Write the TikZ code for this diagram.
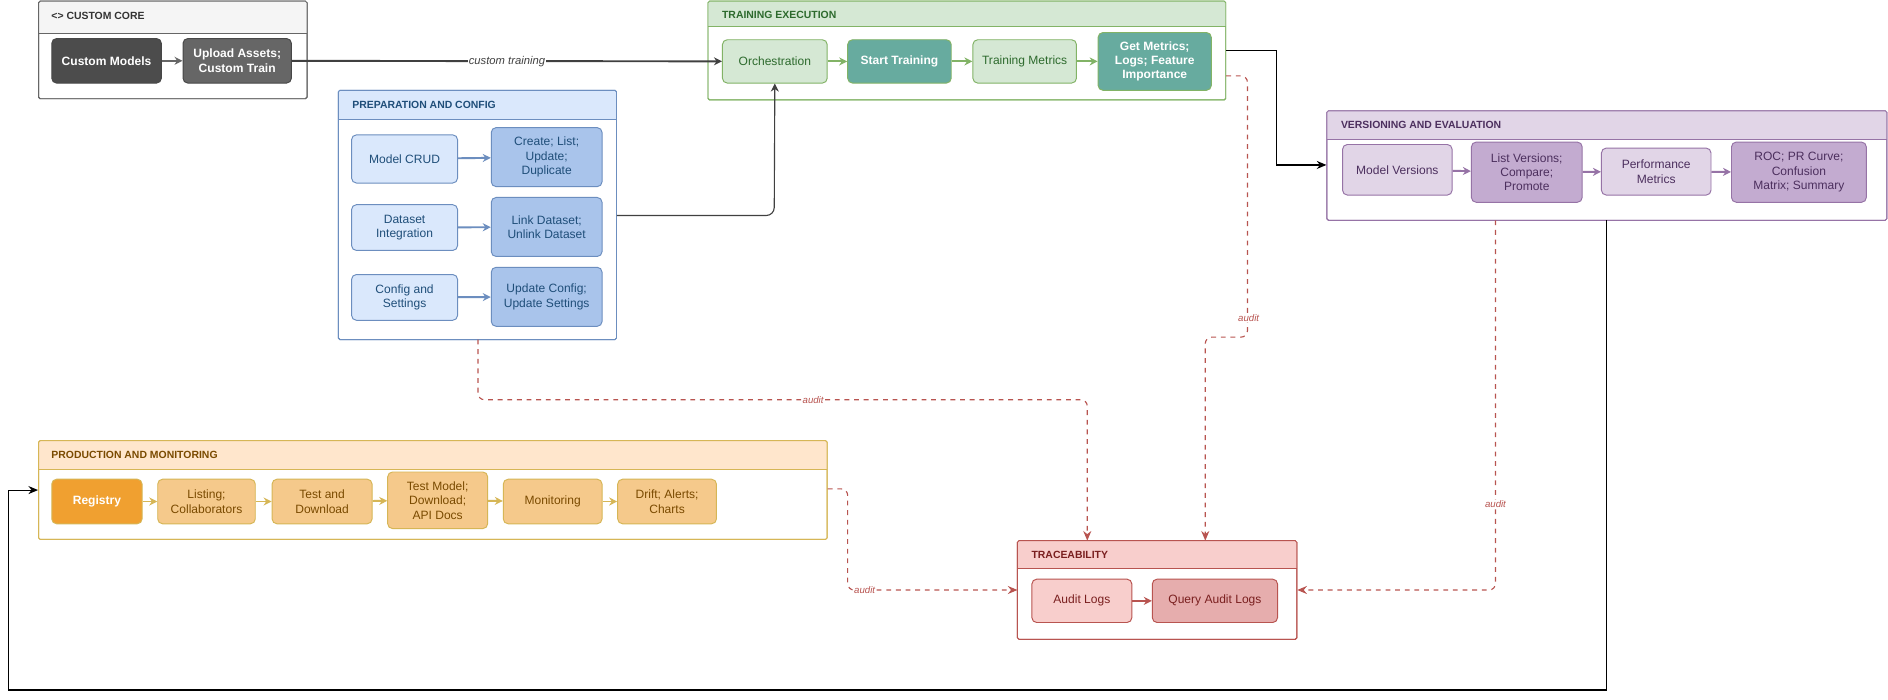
\documentclass[tikz,border=0pt]{standalone}
\usepackage{fontspec}
\setmainfont{Liberation Sans}
\usetikzlibrary{arrows.meta,fit}

\definecolor{coreF}{HTML}{F5F5F5}\definecolor{coreD}{HTML}{666666}
\definecolor{prepF}{HTML}{DAE8FC}\definecolor{prepD}{HTML}{6C8EBF}\definecolor{prepX}{HTML}{A9C4EB}\definecolor{prepT}{HTML}{1F4E79}
\definecolor{trF}{HTML}{D5E8D4}\definecolor{trD}{HTML}{82B366}\definecolor{trX}{HTML}{67AB9F}\definecolor{trT}{HTML}{2D6A2D}
\definecolor{veF}{HTML}{E1D5E7}\definecolor{veD}{HTML}{9673A6}\definecolor{veX}{HTML}{C3ABD0}\definecolor{veT}{HTML}{4C2F5E}
\definecolor{prF}{HTML}{FFE6CC}\definecolor{prD}{HTML}{D6B656}\definecolor{prX}{HTML}{F5C98B}\definecolor{prR}{HTML}{F0A030}\definecolor{prT}{HTML}{7A4A00}
\definecolor{taF}{HTML}{F8CECC}\definecolor{taD}{HTML}{B85450}\definecolor{taX}{HTML}{E6ADAD}\definecolor{taT}{HTML}{7A1F1F}

\tikzset{
  txt/.style={font=\fontsize{7.5}{9}\selectfont, align=center},
  head/.style={font=\fontsize{6.5}{8}\selectfont\bfseries, anchor=west},
  box/.style={draw, rounded corners=3pt, line width=0.6pt, inner sep=0pt},
  flow/.style={-{Stealth[length=5pt,width=5pt]}, line width=1.2pt},
  audit/.style={draw=taD, dashed, line width=0.7pt, rounded corners=4pt, -{Stealth[length=6pt,width=5pt]}},
  alab/.style={font=\fontsize{6}{7}\selectfont\itshape, text=taD, fill=white, inner sep=0.5pt},
}

% group frame: name, x1,y1,x2,y2, header bottom, fill, draw
\newcommand{\grp}[8]{%
  \node[draw=#8, fill=white, line width=0.6pt, inner sep=0pt, rounded corners=1pt, fit={(#2,#3)(#4,#5)}] (#1) {};
  \fill[#7] (#2,#3) rectangle (#4,#6);
  \draw[#8, line width=0.6pt, rounded corners=1pt] (#2,#3) rectangle (#4,#5);
  \draw[#8, line width=0.6pt] (#2,#6) -- (#4,#6);
}
% box: name, x1,y1,x2,y2, style, text
\newcommand{\bx}[7]{%
  \node[box, #6, fit={(#2,#3)(#4,#5)}] (#1) {};
  \node[txt, #6, draw=none, fill=none] at (#1) {#7};
}

\begin{document}
\begin{tikzpicture}[x=0.75pt,y=-0.75pt]
\useasboundingbox (0,0) rectangle (1568,581);

% custom core
\grp{core}{32}{1}{255}{82}{28}{coreF}{coreD}
\node[head, text=black!80] at (38,13) {\textless\textgreater{} CUSTOM CORE};
\bx{cmod}{43}{32}{134}{69}{draw=coreD!70!black, fill=black!70, text=white, font=\fontsize{7.5}{9}\selectfont\bfseries}{Custom Models}
\bx{upl}{152}{32}{242}{69}{draw=coreD!70!black, fill=coreD, text=white, font=\fontsize{7.5}{9}\selectfont\bfseries}{Upload Assets;\\Custom Train}
\draw[flow, coreD] (cmod) -- (upl);

% preparation
\grp{prep}{281}{75}{512}{282}{99}{prepF}{prepD}
\node[head, text=prepT] at (288,87) {PREPARATION AND CONFIG};
\bx{mcrud}{292}{112}{380}{152}{draw=prepD, fill=prepF, text=prepT}{Model CRUD}
\bx{crud}{408}{106}{500}{155}{draw=prepD, fill=prepX, text=prepT}{Create; List;\\Update;\\Duplicate}
\bx{dsi}{292}{170}{380}{208}{draw=prepD, fill=prepF, text=prepT}{Dataset\\Integration}
\bx{lnk}{408}{164}{500}{213}{draw=prepD, fill=prepX, text=prepT}{Link Dataset;\\Unlink Dataset}
\bx{cfg}{292}{228}{380}{266}{draw=prepD, fill=prepF, text=prepT}{Config and\\Settings}
\bx{upd}{408}{222}{500}{271}{draw=prepD, fill=prepX, text=prepT}{Update Config;\\Update Settings}
\foreach \a/\b in {mcrud/crud,dsi/lnk,cfg/upd}
  \draw[flow, prepD] (\a) -- (\b);

% training execution
\grp{train}{588}{1}{1018}{83}{22}{trF}{trD}
\node[head, text=trT] at (595,12) {TRAINING EXECUTION};
\bx{orch}{600}{33}{687}{69}{draw=trD, fill=trF, text=trT}{Orchestration}
\bx{start}{704}{33}{790}{69}{draw=trD, fill=trX, text=white, font=\fontsize{7.5}{9}\selectfont\bfseries}{Start Training}
\bx{tmet}{808}{33}{894}{69}{draw=trD, fill=trF, text=trT}{Training Metrics}
\bx{gmet}{912}{27}{1006}{75}{draw=trD, fill=trX, text=white, font=\fontsize{7.5}{9}\selectfont\bfseries}{Get Metrics;\\Logs; Feature\\Importance}
\foreach \a/\b in {orch/start,start/tmet,tmet/gmet}
  \draw[flow, trD] (\a) -- (\b);

% versioning
\grp{vers}{1102}{92}{1567}{183}{116}{veF}{veD}
\node[head, text=veT] at (1109,104) {VERSIONING AND EVALUATION};
\bx{mver}{1115}{120}{1206}{162}{draw=veD, fill=veF, text=veT}{Model Versions}
\bx{lver}{1222}{118}{1314}{168}{draw=veD, fill=veX, text=veT}{List Versions;\\Compare;\\Promote}
\bx{perf}{1330}{123}{1421}{162}{draw=veD, fill=veF, text=veT}{Performance\\Metrics}
\bx{roc}{1438}{118}{1550}{168}{draw=veD, fill=veX, text=veT}{ROC; PR Curve;\\Confusion\\Matrix; Summary}
\foreach \a/\b in {mver/lver,lver/perf,perf/roc}
  \draw[flow, veD] (\a) -- (\b);

% production
\grp{prod}{32}{366}{687}{448}{390}{prF}{prD}
\node[head, text=prT] at (38,378) {PRODUCTION AND MONITORING};
\bx{reg}{43}{398}{118}{435}{draw=prD, fill=prR, text=white, font=\fontsize{7.5}{9}\selectfont\bfseries}{Registry}
\bx{lst}{131}{398}{212}{435}{draw=prD, fill=prX, text=prT}{Listing;\\Collaborators}
\bx{tdl}{226}{398}{309}{435}{draw=prD, fill=prX, text=prT}{Test and\\Download}
\bx{tmod}{322}{392}{405}{439}{draw=prD, fill=prX, text=prT}{Test Model;\\Download;\\API Docs}
\bx{mon}{418}{398}{500}{435}{draw=prD, fill=prX, text=prT}{Monitoring}
\bx{drf}{513}{398}{595}{435}{draw=prD, fill=prX, text=prT}{Drift; Alerts;\\Charts}
\foreach \a/\b in {reg/lst,lst/tdl,tdl/tmod,tmod/mon,mon/drf}
  \draw[flow, prD] (\a) -- (\b);

% traceability
\grp{trace}{845}{449}{1077}{531}{472}{taF}{taD}
\node[head, text=taT] at (852,461) {TRACEABILITY};
\bx{alog}{857}{481}{940}{517}{draw=taD, fill=taF, text=taT}{Audit Logs}
\bx{qlog}{957}{481}{1061}{517}{draw=taD, fill=taX, text=taT}{Query Audit Logs}
\draw[flow, taD] (alog) -- (qlog);

% cross links
\draw[flow, black!75] (upl) -- node[font=\fontsize{7}{8}\selectfont\itshape, fill=white, inner sep=0.5pt] {custom training} (orch);
\draw[-{Stealth[length=5pt,width=5pt]}, black!75, line width=0.7pt, rounded corners=5pt] (prep.east |- 0,179) -- (643,179) -- (orch.south);
\draw[-{Stealth[length=6pt,width=5pt]}, line width=0.7pt] (train.east |- 0,42) -- (1060,42) -- (1060,137) -- (vers.west |- 0,137);
\draw[-{Stealth[length=6pt,width=5pt]}, line width=0.7pt] (1334,183) -- (1334,573) -- (7,573) -- (7,407) -- (prod.west |- 0,407);

% audit links
\draw[audit] (train.east |- 0,63) -- (1036,63) -- (1036,280) -- (1001,280) -- (1001,449);
\node[alab] at (1037,264) {audit};
\draw[audit] (397,282) -- (397,332) -- node[alab, pos=0.55] {audit} (903,332) -- (903,449);
\draw[audit] (prod.east |- 0,406) -- (704,406) -- (704,490) -- node[alab, pos=0.1] {audit} (845,490);
\draw[audit] (1242,183) -- (1242,490) -- (trace.east |- 0,490);
\node[alab] at (1242,419) {audit};
\end{tikzpicture}
\end{document}
